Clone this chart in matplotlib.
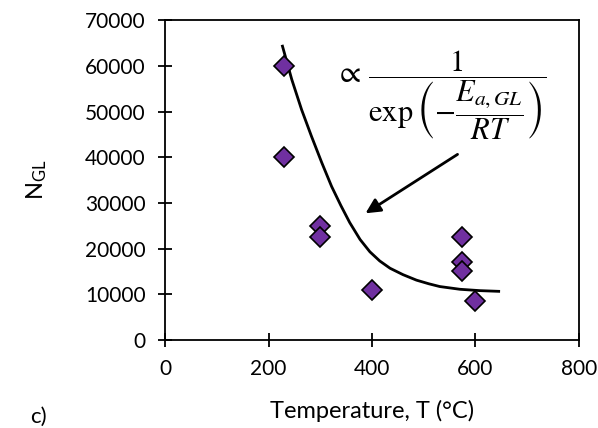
import matplotlib.pyplot as plt

# measured data
temp = [230, 230, 300, 300, 400, 575, 575, 575, 600]
n_gl = [60000, 40000, 25000, 22500, 11000, 22500, 17000, 15000, 8500]

# trend curve
curve_t = [227, 245, 264, 283, 303, 322, 340, 357, 377, 396, 415, 435, 460, 486, 510,
           531, 570, 609, 645]
curve_n = [64300, 57000, 50400, 44600, 38800, 33600, 29400, 25700, 22000, 19300, 17300,
           15700, 14300, 13100, 12300, 11700, 11100, 10800, 10650]

xticks = [0, 200, 400, 600, 800]
yticks = [0, 10000, 20000, 30000, 40000, 50000, 60000, 70000]

plt.rcParams['font.family'] = ['Lato', 'DejaVu Sans']
plt.rcParams['mathtext.fontset'] = 'stix'

fig = plt.figure(figsize=(5.98, 4.28), dpi=100)
ax = fig.add_axes([0.276, 0.2056, 0.692, 0.7474])

ax.plot(curve_t, curve_n, color='black', lw=2, zorder=2)
ax.plot(temp, n_gl, linestyle='none', marker='D', markersize=10,
        markerfacecolor='#7030A0', markeredgecolor='black', markeredgewidth=1.2, zorder=3)

ax.set_xlim(0, 800)
ax.set_ylim(0, 70000)
ax.set_xticks(xticks)
ax.set_yticks(yticks)
ax.tick_params(direction='inout', length=10, width=1.3, labelsize=15, pad=9, colors='black')
for s in ax.spines.values():
    s.set_linewidth(1.3)

ax.set_xlabel('Temperature, T (°C)', fontsize=17, labelpad=15)
ax.set_ylabel('N$_{\\mathregular{GL}}$', fontsize=17, labelpad=26)

ax.annotate('', xy=(383, 27400), xytext=(570, 40950),
            arrowprops=dict(arrowstyle='-|>', color='black', lw=2, mutation_scale=22))
ax.text(533, 53500, r'$\propto\,\dfrac{1}{\exp\left(-\dfrac{E_{a,GL}}{RT}\right)}$',
        fontsize=22, ha='center', va='center')

fig.text(0.05, 0.003, 'c)', fontsize=16, va='bottom')

fig.savefig('out.png', dpi=100)
